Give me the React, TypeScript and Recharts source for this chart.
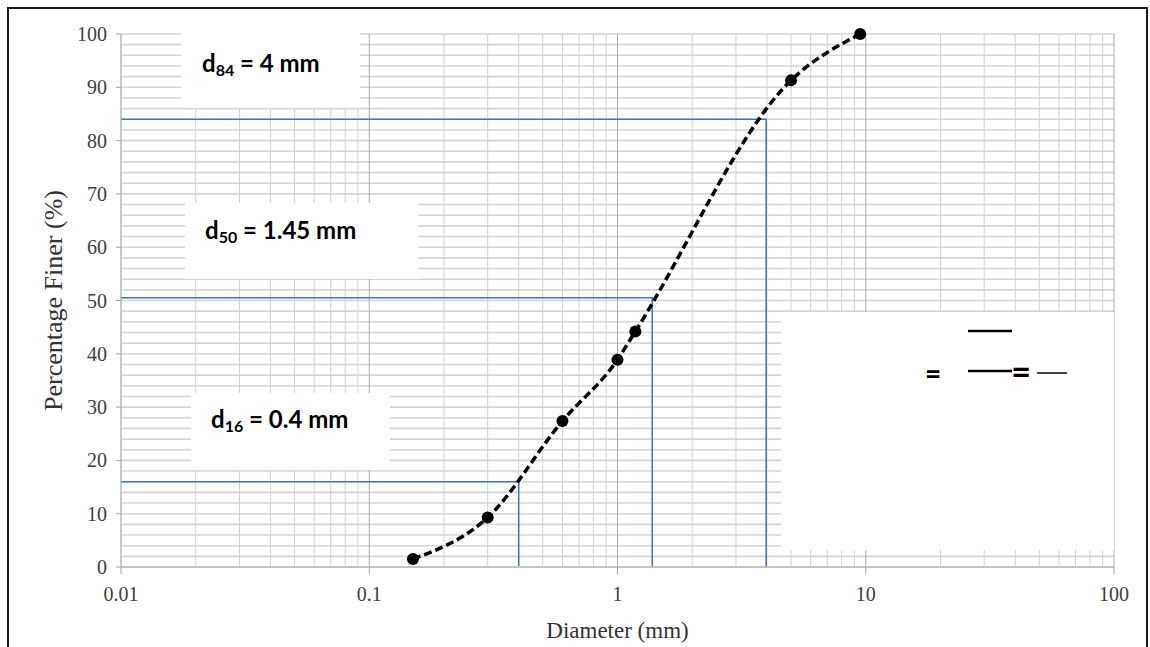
import { LineChart, Line, XAxis, YAxis, CartesianGrid } from 'recharts';

// sieve analysis
const diameters = [0.15, 0.3, 0.6, 1.0, 1.18, 5, 9.5];
const percentFiner = [1.5, 9.3, 27.4, 38.9, 44.2, 91.3, 100];

// d16 / d50 / d84 construction lines
const guideSizes = [0.4, 1.38, 3.97];
const guidePercents = [16, 50.5, 84];

const xTicks = [
  0.01, 0.02, 0.03, 0.04, 0.05, 0.06, 0.07, 0.08, 0.09,
  0.1, 0.2, 0.3, 0.4, 0.5, 0.6, 0.7, 0.8, 0.9,
  1, 2, 3, 4, 5, 6, 7, 8, 9,
  10, 20, 30, 40, 50, 60, 70, 80, 90,
  100,
];
const xLabels = [0.01, 0.1, 1, 10, 100];
const yTicks = [
  0, 2, 4, 6, 8, 10, 12, 14, 16, 18, 20, 22, 24, 26, 28, 30, 32, 34, 36, 38, 40,
  42, 44, 46, 48, 50, 52, 54, 56, 58, 60, 62, 64, 66, 68, 70, 72, 74, 76, 78, 80,
  82, 84, 86, 88, 90, 92, 94, 96, 98, 100,
];
const yLabels = [0, 10, 20, 30, 40, 50, 60, 70, 80, 90, 100];

const sieveData = diameters.map((d, i) => ({ d, p: percentFiner[i] }));
const guides = guideSizes.map((size, i) => [
  { d: 0.01, p: guidePercents[i] },
  { d: size, p: guidePercents[i] },
  { d: size, p: 0 },
]);

const serif = '"Liberation Serif", "Times New Roman", serif';
const boxFont = 'Lato, "Open Sans", sans-serif';
const labelColor = '#404040';

const XTick = (props: any) => {
  const { x, y, payload } = props;
  if (!xLabels.includes(payload.value)) return <g />;
  return (
    <g>
      <line x1={x} y1={y} x2={x} y2={y + 7} stroke="#a6a6a6" />
      <text x={x} y={y + 34} textAnchor="middle" fontFamily={serif} fontSize={20} fill={labelColor}>
        {String(payload.value)}
      </text>
    </g>
  );
};

const YTick = (props: any) => {
  const { x, y, payload } = props;
  if (!yLabels.includes(payload.value)) return <g />;
  return (
    <g>
      <line x1={x - 5} y1={y} x2={x} y2={y} stroke="#a6a6a6" />
      <text x={x - 14} y={y} dy="0.35em" textAnchor="end" fontFamily={serif} fontSize={20} fill={labelColor}>
        {payload.value}
      </text>
    </g>
  );
};

const verticalGrid = (p: any) => (
  <line
    key={p.key}
    x1={p.x1}
    y1={p.y1}
    x2={p.x2}
    y2={p.y2}
    stroke={p.index % 9 === 0 ? '#ababab' : '#d2d2d2'}
    strokeWidth={1}
  />
);

const SizeLabel = ({ x, y, sub, rest }: { x: number; y: number; sub: string; rest: string }) => (
  <text x={x} y={y} fontFamily={boxFont} fontWeight="bold" fontSize={24} fill="#000">
    d
    <tspan dy={4} fontSize={16}>{sub}</tspan>
    <tspan dy={-4}>{rest}</tspan>
  </text>
);

export default function App() {
  return (
    <div style={{ position: 'absolute', left: 0, top: 0, width: 1150, height: 647, background: '#fff', overflow: 'hidden' }}>
      <div style={{ position: 'absolute', left: 0, top: 0 }}>
        <LineChart width={1150} height={647} margin={{ top: 34, right: 36, bottom: 0, left: 0 }}>
          <CartesianGrid vertical={verticalGrid} stroke="#d6d6d6" strokeWidth={1.6} />
          <XAxis
            dataKey="d"
            type="number"
            scale="log"
            domain={[0.01, 100]}
            allowDataOverflow
            ticks={xTicks}
            interval={0}
            height={80}
            tickSize={0}
            tickMargin={0}
            tickLine={false}
            tick={XTick}
            axisLine={{ stroke: '#c4c4c4', strokeWidth: 2 }}
            label={{
              content: (props: any) => {
                const vb = props.viewBox;
                return (
                  <text x={vb.x + vb.width / 2} y={vb.y + 71} textAnchor="middle" fontFamily={serif} fontSize={23} fill="#333">
                    Diameter (mm)
                  </text>
                );
              },
            }}
          />
          <YAxis
            dataKey="p"
            type="number"
            domain={[0, 100]}
            ticks={yTicks}
            interval={0}
            width={121}
            tickSize={0}
            tickMargin={0}
            tickLine={false}
            tick={YTick}
            axisLine={{ stroke: '#bdbdbd', strokeWidth: 1 }}
            label={{
              content: (props: any) => {
                const vb = props.viewBox;
                const cx = vb.x + 62;
                const cy = vb.y + vb.height / 2;
                return (
                  <text x={cx} y={cy} transform={`rotate(-90 ${cx} ${cy})`} textAnchor="middle" fontFamily={serif} fontSize={26} fill="#333">
                    Percentage Finer (%)
                  </text>
                );
              },
            }}
          />
          {guides.map((g, i) => (
            <Line
              key={i}
              data={g}
              dataKey="p"
              type="linear"
              stroke="#4472c4"
              strokeWidth={1.5}
              dot={false}
              activeDot={false}
              isAnimationActive={false}
            />
          ))}
          <Line
            data={sieveData}
            dataKey="p"
            type="monotone"
            stroke="#000"
            strokeWidth={3.5}
            strokeDasharray="8 4"
            dot={{ r: 6, fill: '#000', stroke: '#000', strokeWidth: 0 }}
            activeDot={false}
            isAnimationActive={false}
          />
        </LineChart>
      </div>

      {/* text boxes pasted over the plot */}
      <svg width={1150} height={647} style={{ position: 'absolute', left: 0, top: 0, pointerEvents: 'none' }}>
        <rect x={181} y={33} width={179} height={75} fill="#fff" />
        <SizeLabel x={202} y={72} sub="84" rest=" = 4 mm" />
        <rect x={185} y={203} width={233} height={76} fill="#fff" />
        <SizeLabel x={205} y={239} sub="50" rest=" = 1.45 mm" />
        <rect x={191} y={393} width={199} height={77} fill="#fff" />
        <SizeLabel x={211} y={428} sub="16" rest=" = 0.4 mm" />

        <rect x={781} y={312} width={333} height={238} fill="#fff" />
        <text x={933} y={384} textAnchor="middle" fontFamily={boxFont} fontWeight="bold" fontSize={28} fill="#000">=</text>
        <line x1={968} y1={331} x2={1012} y2={331} stroke="#000" strokeWidth={2.5} />
        <line x1={968} y1={371} x2={1012} y2={371} stroke="#000" strokeWidth={2.5} />
        <text x={1021} y={384} textAnchor="middle" fontFamily={boxFont} fontWeight="bold" fontSize={34} fill="#000">=</text>
        <line x1={1037} y1={373} x2={1067} y2={373} stroke="#000" strokeWidth={1.5} />
      </svg>

      <div style={{ position: 'absolute', left: 7, top: 7, width: 1137, height: 700, border: '2px solid #1a1a1a' }} />
    </div>
  );
}
